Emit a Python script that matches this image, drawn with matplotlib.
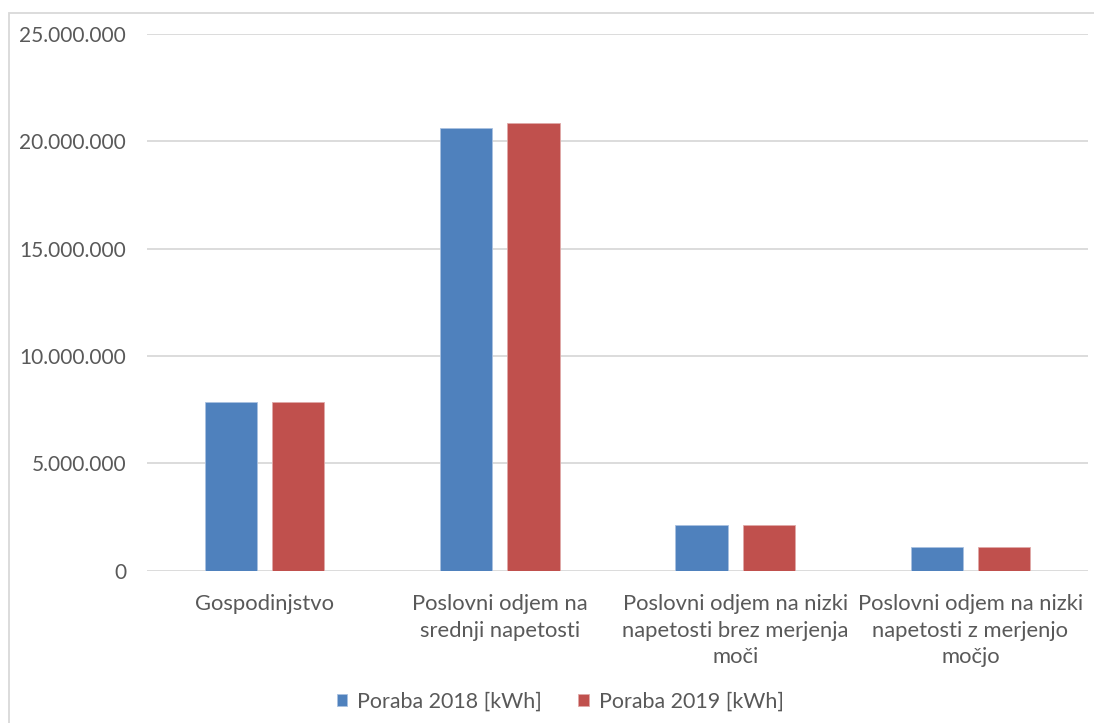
import numpy as np
import matplotlib.pyplot as plt
from matplotlib.patches import Rectangle
from matplotlib.ticker import FuncFormatter

plt.rcParams['font.family'] = ['Lato', 'DejaVu Sans']

categories = ["Gospodinjstvo",
              "Poslovni odjem na\nsrednji napetosti",
              "Poslovni odjem na nizki\nnapetosti brez merjenja\nmoči",
              "Poslovni odjem na nizki\nnapetosti z merjenjo\nmočjo"]
poraba_2018 = [7840000, 20640000, 2130000, 1110000]
poraba_2019 = [7840000, 20860000, 2130000, 1110000]
series_names = ["Poraba 2018 [kWh]", "Poraba 2019 [kWh]"]

blue = '#4f81bd'
red = '#c0504d'
txt = '#595959'
grid = '#d9d9d9'

fig = plt.figure(figsize=(10.94, 7.23), dpi=100)
ax = fig.add_axes([0.1344, 0.2109, 0.8601, 0.7421])

x = np.arange(len(categories))
w = 0.222
off = 0.143
ax.bar(x - off, poraba_2018, w, color=blue, edgecolor='#a9c1e0', linewidth=0.6,
       label=series_names[0], zorder=3)
ax.bar(x + off, poraba_2019, w, color=red, edgecolor='#e0a9a8', linewidth=0.6,
       label=series_names[1], zorder=3)

ax.set_xlim(-0.5, len(categories) - 0.5)
ax.set_ylim(0, 25000000)
ax.set_yticks(np.arange(0, 25000001, 5000000))
ax.yaxis.set_major_formatter(FuncFormatter(lambda v, p: f"{int(v):,}".replace(",", ".")))
ax.yaxis.grid(True, color=grid, linewidth=1.3, zorder=0)
ax.set_axisbelow(True)
for s in ax.spines.values():
    s.set_visible(False)
ax.tick_params(axis='y', length=0, pad=15, labelsize=15, labelcolor=txt)
ax.tick_params(axis='x', length=0, pad=17, labelsize=15.8, labelcolor=txt)
ax.set_xticks(x)
ax.set_xticklabels(categories, linespacing=1.4, va='top')

leg = fig.legend(loc='center', bbox_to_anchor=(0.512, 0.03), ncol=2, frameon=False,
                 fontsize=15.4, handlelength=0.5, handleheight=0.5, handletextpad=0.45,
                 columnspacing=1.7)
for t in leg.get_texts():
    t.set_color(txt)

# outer chart frame
fig.patches.append(Rectangle((8.5 / 1094, -0.01), 1.02, 1 - 13 / 723 + 0.01,
                             transform=fig.transFigure, fill=False,
                             edgecolor='#d9d9d9', linewidth=1.3))

fig.savefig('out.png', dpi=100)
